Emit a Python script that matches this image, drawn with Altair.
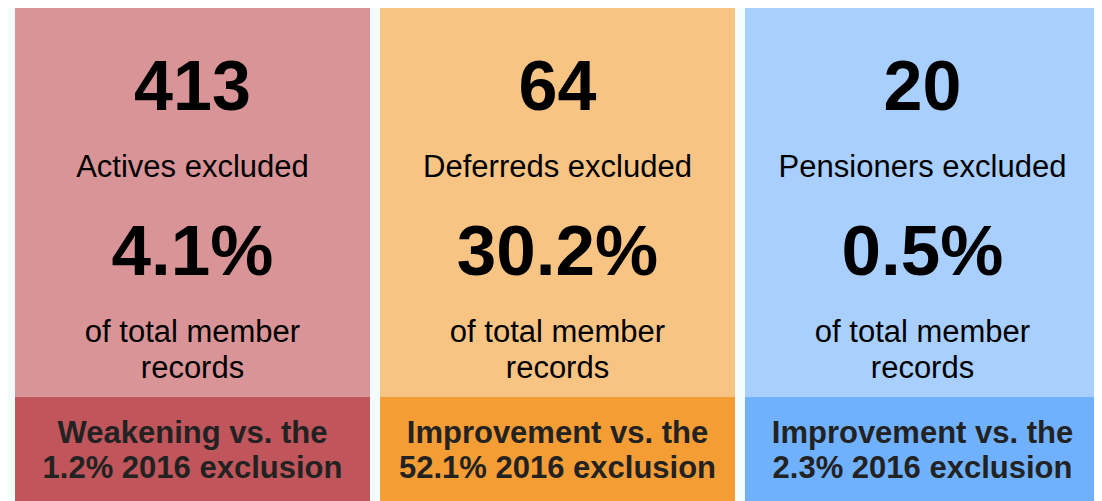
import altair as alt
import pandas as pd

categories = ["Actives", "Deferreds", "Pensioners"]
counts = ["413", "64", "20"]
labels = ["Actives excluded", "Deferreds excluded", "Pensioners excluded"]
percents = ["4.1%", "30.2%", "0.5%"]
sub_line1 = ["of total member"] * 3
sub_line2 = ["records"] * 3
compare_line1 = ["Weakening vs. the", "Improvement vs. the", "Improvement vs. the"]
compare_line2 = ["1.2% 2016 exclusion", "52.1% 2016 exclusion", "2.3% 2016 exclusion"]

top_colors = ["#d99498", "#f8c483", "#a8cffe"]
bottom_colors = ["#c0565b", "#f49d35", "#70b1fe"]

df = pd.DataFrame({
    "category": categories,
    "count": counts,
    "label": labels,
    "pct": percents,
    "sub1": sub_line1,
    "sub2": sub_line2,
    "cmp1": compare_line1,
    "cmp2": compare_line2,
})

W, H = 1086, 493
FONT = "Liberation Sans"

xenc = alt.X("category:N", sort=categories, axis=None,
             scale=alt.Scale(range=[7, 1092], paddingInner=10 / 365, paddingOuter=0))

base = alt.Chart(df)

top_rect = base.mark_rect().encode(
    x=xenc,
    y=alt.value(0), y2=alt.value(389),
    color=alt.Color("category:N", scale=alt.Scale(domain=categories, range=top_colors), legend=None),
)
bottom_rect = base.mark_rect().encode(
    x=xenc,
    y=alt.value(389), y2=alt.value(H),
    color=alt.Color("category:N", scale=alt.Scale(domain=categories, range=bottom_colors), legend=None),
)


def txt(field, ypos, size, weight, color="#000000"):
    return base.mark_text(
        font=FONT, fontSize=size, fontWeight=weight, baseline="alphabetic",
        align="center", color=color,
    ).encode(x=xenc, y=alt.value(ypos), text=f"{field}:N")


layers = [
    top_rect,
    bottom_rect,
    txt("count", 102, 70, "bold"),
    txt("label", 169, 31, "normal"),
    txt("pct", 267, 71, "bold"),
    txt("sub1", 334, 31, "normal"),
    txt("sub2", 370, 31, "normal"),
    txt("cmp1", 435, 31, "bold", "#222222"),
    txt("cmp2", 470, 31, "bold", "#222222"),
]

chart = alt.layer(*layers).resolve_scale(color="independent").properties(
    width=W, height=H,
    autosize=alt.AutoSizeParams(type="none"),
    padding=0,
    background="#f2fcfb",
).configure_view(stroke=None)

chart.save("out.html", embed_options={"renderer": "svg", "actions": False})
